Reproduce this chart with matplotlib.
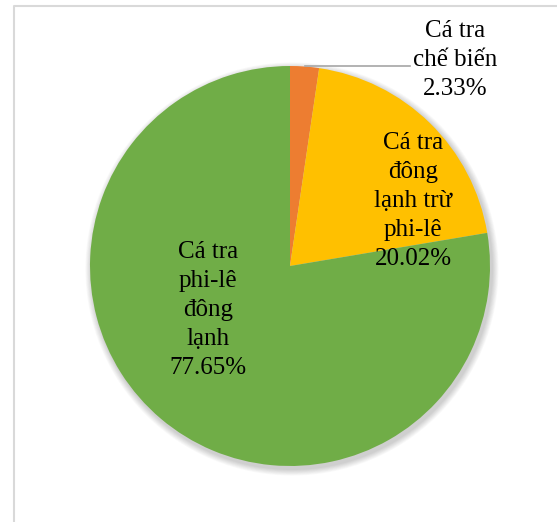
import matplotlib
matplotlib.use("Agg")
import matplotlib.pyplot as plt
from matplotlib.patches import Circle

plt.rcParams['font.family'] = ['Liberation Serif', 'DejaVu Serif']

# Cơ cấu xuất khẩu cá tra
labels = ['Cá tra\nchế biến', 'Cá tra\nđông\nlạnh trừ\nphi-lê', 'Cá tra\nphi-lê\nđông\nlạnh']
shares = [2.33, 20.02, 77.65]
colors = ['#ED7D31', '#FFC000', '#70AD47']

W, H = 557, 522
fig = plt.figure(figsize=(W / 100, H / 100), dpi=100)
ax = fig.add_axes([0, 0, 1, 1])

cx, cy, r = 290, H - 266, 200

# soft drop shadow under the pie
for i in range(8):
    ax.add_patch(Circle((cx + 2, cy - 3), r + 1 + i * 0.8, color='black',
                        alpha=0.025, lw=0, zorder=1))

ax.pie(shares, colors=colors, startangle=90, counterclock=False,
       center=(cx, cy), radius=r, frame=True,
       wedgeprops=dict(linewidth=0, zorder=2))
ax.set_xlim(0, W)
ax.set_ylim(0, H)
ax.set_aspect('equal')
ax.axis('off')

fs = 18
ls = 1.42
# outside label for the small slice with leader line
ax.plot([305, 410], [H - 66, H - 66], color='#a6a6a6', lw=1.2, zorder=3)
ax.text(455, H - 60, f'{labels[0]}\n{shares[0]:.2f}%', ha='center', va='center',
        fontsize=fs, linespacing=ls, zorder=4)
ax.text(413, H - 201, f'{labels[1]}\n{shares[1]:.2f}%', ha='center', va='center',
        fontsize=fs, linespacing=ls, zorder=4)
ax.text(208, H - 310, f'{labels[2]}\n{shares[2]:.2f}%', ha='center', va='center',
        fontsize=fs, linespacing=ls, zorder=4)

# chart area border
ax.plot([14, 14, W], [0, H - 6, H - 6], color='#d9d9d9', lw=1.5, zorder=5)

fig.savefig('out.png', dpi=100)
